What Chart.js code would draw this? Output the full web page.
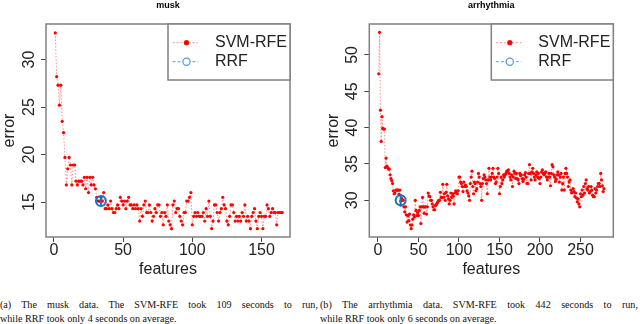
<!DOCTYPE html>
<html><head><meta charset="utf-8">
<script src="https://cdn.jsdelivr.net/npm/chart.js@4/dist/chart.umd.min.js"></script>
<style>
html,body{margin:0;padding:0;background:#fff;width:640px;height:324px;overflow:hidden;}
.c{position:absolute;top:0;width:320px;height:290px;}
.cap{position:absolute;font-family:"Liberation Serif","DejaVu Serif",serif;font-size:11px;line-height:14px;color:#111;white-space:nowrap;transform-origin:0 0;transform:scaleX(0.92);}
.l1{top:296.5px;width:345.6px;text-align:justify;text-align-last:justify;}
.l2{top:310.5px;}
</style></head><body>
<div class="c" style="left:0"><canvas id="c1" width="320" height="290"></canvas></div>
<div class="c" style="left:320px"><canvas id="c2" width="320" height="290"></canvas></div>
<div class="cap l1" style="left:0">(a) The musk data. The SVM-RFE took 109 seconds to run,</div>
<div class="cap l2" style="left:0">while RRF took only 4 seconds on average.</div>
<div class="cap l1" style="left:320px">(b) The arrhythmia data. SVM-RFE took 442 seconds to run,</div>
<div class="cap l2" style="left:320px">while RRF took only 6 seconds on average.</div>
<script>
// ---------- data ----------
const seriesNames = ['SVM-RFE', 'RRF'];
const xTitle = 'features';
const yTitle = 'error';

const muskTitle = 'musk';
const muskSvm = [32.8,28.2,27.3,25.2,27.3,23.5,22.3,19.7,16.8,18.5,19.7,18.9,16.8,18.9,18.9,17.2,16.8,17.2,17.2,17.2,
16.8,17.6,16.4,17.6,16.0,17.6,16.8,17.6,16.8,16.4,15.5,15.1,15.1,15.5,15.1,16.0,14.3,14.3,14.7,14.3,
15.1,14.3,13.9,13.9,14.3,14.7,14.3,15.5,15.1,14.7,15.1,14.3,15.1,15.5,14.7,14.7,14.3,14.7,14.3,14.7,
14.3,13.0,14.3,13.5,14.7,15.1,13.9,13.9,14.7,13.9,13.0,13.5,14.3,13.9,14.7,14.7,13.5,13.9,12.6,13.9,
13.5,14.7,13.0,12.6,12.2,14.7,15.1,13.9,14.3,14.3,13.5,13.0,12.6,13.9,13.9,15.1,15.1,15.5,16.0,12.6,
13.5,13.9,13.5,13.9,13.5,13.5,13.5,13.9,13.0,14.3,13.5,15.1,13.5,12.2,13.0,14.7,14.7,13.9,13.0,13.9,
14.3,15.5,14.7,14.3,13.0,12.6,13.5,14.7,14.7,13.9,13.0,13.5,13.0,13.5,13.0,13.9,13.5,14.7,13.0,13.5,
13.0,12.2,13.5,13.9,14.3,13.0,12.2,13.5,13.9,13.5,12.2,13.5,13.5,14.7,14.3,13.5,13.9,14.3,13.9,13.9,
12.6,13.9,13.9,13.9,13.9];
const muskRrf = {features: 34, error: 15.1, err: 0.4};
const muskXTicks = [0, 50, 100, 150];
const muskYTicks = [15, 20, 25, 30];

const arrTitle = 'arrhythmia';
const arrSvm = [47.4,53.1,42.4,38.1,41.5,39.9,39.8,39.8,34.5,35.8,34.7,34.5,34.3,34.3,33.5,33.0,32.7,32.3,31.3,30.9,
31.0,31.4,31.4,31.4,31.4,30.8,31.4,29.9,30.3,30.1,30.0,29.1,28.4,29.1,28.0,27.0,27.9,27.2,28.1,26.6,
26.1,26.6,27.4,28.0,27.7,30.0,28.6,27.9,28.3,27.9,28.6,29.1,26.8,29.1,30.4,29.1,28.2,29.1,29.1,28.1,
29.1,31.0,30.6,30.5,30.0,30.0,29.5,29.1,28.7,28.7,29.3,29.4,29.6,29.8,30.0,30.0,31.1,30.4,30.4,32.2,
30.4,30.9,30.0,31.1,32.2,30.6,30.2,29.5,30.0,31.0,30.4,30.9,30.6,29.5,31.0,31.3,31.0,30.9,31.3,33.2,
33.2,32.5,32.3,31.9,31.2,32.5,31.9,32.1,31.9,31.3,31.0,30.6,30.0,32.3,33.2,34.0,31.9,30.9,32.5,32.3,
31.3,31.6,32.5,33.7,33.2,32.3,31.9,30.0,32.3,33.0,33.5,33.2,32.8,32.3,30.9,32.8,34.4,33.2,32.8,33.2,
33.7,34.4,33.2,33.0,32.3,32.5,33.2,34.4,33.7,30.9,31.9,33.2,32.3,32.8,33.5,33.2,33.5,33.7,34.0,34.0,
34.2,33.7,33.2,32.8,33.5,31.9,33.2,34.0,33.7,33.0,33.7,33.0,32.8,32.3,33.7,33.4,33.5,33.0,32.6,32.9,
33.5,33.8,33.2,32.3,32.3,33.7,34.9,33.7,32.8,33.9,34.4,33.7,33.2,32.8,33.5,33.9,33.2,33.7,33.0,32.3,
33.2,33.9,34.2,33.7,33.5,33.7,33.9,33.2,32.8,33.2,33.7,33.2,32.0,33.7,34.9,34.6,33.5,33.2,32.6,32.9,
33.5,33.9,33.5,32.5,33.2,33.7,31.4,32.3,33.2,31.4,33.7,34.4,33.7,33.2,31.9,32.5,32.8,31.4,31.0,31.1,
31.6,31.2,30.5,31.0,30.3,29.8,30.2,29.5,29.1,30.9,30.5,31.4,30.7,31.9,31.0,32.3,32.8,31.6,31.4,31.9,
31.0,31.2,31.9,31.4,30.7,30.5,30.5,31.6,31.0,31.4,31.9,32.3,32.3,31.9,33.7,32.8,32.0,31.2,31.6];
const arrRrf = {features: 28, error: 30.0, err: 0.9};
const arrXTicks = [0, 50, 100, 150, 200, 250];
const arrYTicks = [30, 35, 40, 45, 50];

// ---------- drawing ----------
const FONT = '"Liberation Sans", Arial, sans-serif';
const RED = '#ff0000';
const BLUE = '#1f6fbf';

const deco = {
  id: 'deco',
  afterDraw(chart, args, o) {
    const {ctx, chartArea: a, scales} = chart;
    ctx.save();
    ctx.strokeStyle = '#808080'; ctx.lineWidth = 1.5;
    ctx.strokeRect(a.left, a.top, a.right - a.left, a.bottom - a.top);
    ctx.fillStyle = '#222'; ctx.font = '16px ' + FONT;
    ctx.textAlign = 'center'; ctx.textBaseline = 'middle';
    scales.y.ticks.forEach(t => {
      const y = scales.y.getPixelForValue(t.value);
      ctx.save(); ctx.translate(a.left - 16.5, y); ctx.rotate(-Math.PI / 2);
      ctx.fillText(String(t.value), 0, 0); ctx.restore();
    });
    ctx.save(); ctx.translate(a.left - 36, (a.top + a.bottom) / 2); ctx.rotate(-Math.PI / 2);
    ctx.fillText(yTitle, 0, 0); ctx.restore();
    ctx.font = 'bold 9px ' + FONT; ctx.fillStyle = '#000';
    ctx.fillText(o.title, (a.left + a.right) / 2, 6);
    const W = 122, H = 56, L = a.right - W, T = a.top;
    ctx.fillStyle = '#fff'; ctx.fillRect(L, T, W, H);
    ctx.strokeStyle = '#808080'; ctx.lineWidth = 1.5; ctx.strokeRect(L, T, W, H);
    const rows = [T + 18.7, T + 37.7];
    ctx.setLineDash([2, 2]); ctx.lineWidth = 1;
    ctx.strokeStyle = 'rgba(255,60,60,0.6)';
    ctx.beginPath(); ctx.moveTo(L + 4.5, rows[0]); ctx.lineTo(L + 30, rows[0]); ctx.stroke();
    ctx.setLineDash([]);
    ctx.fillStyle = RED; ctx.beginPath(); ctx.arc(L + 18.5, rows[0], 2.6, 0, Math.PI * 2); ctx.fill();
    ctx.setLineDash([3, 2]); ctx.strokeStyle = '#5b9bd5';
    ctx.beginPath(); ctx.moveTo(L + 4.5, rows[1]); ctx.lineTo(L + 30, rows[1]); ctx.stroke();
    ctx.setLineDash([]);
    ctx.fillStyle = '#fff'; ctx.beginPath(); ctx.arc(L + 18.5, rows[1], 3.6, 0, Math.PI * 2); ctx.fill();
    ctx.strokeStyle = '#5b9bd5'; ctx.lineWidth = 1.2; ctx.stroke();
    ctx.fillStyle = '#222'; ctx.font = '16px ' + FONT; ctx.textAlign = 'left';
    ctx.fillText(seriesNames[0], L + 47, rows[0]);
    ctx.fillText(seriesNames[1], L + 47, rows[1]);
    ctx.restore();
  }
};

function makeChart(id, title, svm, rrf, xTicks, yTicks, xr, yr, areaLeft, padRight) {
  const svmPts = svm.map((v, i) => ({x: i + 1, y: v}));
  new Chart(document.getElementById(id), {
    type: 'scatter',
    data: {
      datasets: [
        {label: seriesNames[1], data: [{x: rrf.features, y: rrf.error}],
         pointStyle: 'circle', pointRadius: 5, pointBorderWidth: 2, borderColor: BLUE,
         backgroundColor: 'rgba(0,0,0,0)', showLine: false},
        {label: 'err', data: [{x: rrf.features, y: rrf.error - rrf.err}, {x: rrf.features, y: rrf.error + rrf.err}],
         showLine: true, pointRadius: 0, borderColor: BLUE, borderWidth: 2},
        {label: seriesNames[0], data: svmPts, showLine: true,
         borderColor: 'rgba(255,50,50,0.55)', borderWidth: 1, borderDash: [1.5, 1.8],
         pointRadius: 1.6, pointBorderWidth: 0, backgroundColor: RED, pointBackgroundColor: RED}
      ]
    },
    options: {
      responsive: false, animation: false, devicePixelRatio: 1,
      layout: {padding: {top: 24, right: padRight, left: 0, bottom: 0}},
      plugins: {legend: {display: false}, tooltip: {enabled: false}, deco: {title: title}},
      scales: {
        x: {type: 'linear', min: xr[0], max: xr[1],
            afterBuildTicks: s => { s.ticks = xTicks.map(v => ({value: v})); },
            afterFit: s => { s.height = 53; },
            border: {display: false},
            grid: {drawOnChartArea: false, drawTicks: true, tickLength: 5, color: '#444', lineWidth: 1},
            ticks: {font: {family: FONT, size: 16}, color: '#222', padding: -1, maxRotation: 0, autoSkip: false},
            title: {display: true, text: xTitle, font: {family: FONT, size: 16}, color: '#222', padding: {top: 0, bottom: 11}}},
        y: {type: 'linear', min: yr[0], max: yr[1],
            afterBuildTicks: s => { s.ticks = yTicks.map(v => ({value: v})); },
            afterFit: s => { s.width = areaLeft; },
            border: {display: false},
            grid: {drawOnChartArea: false, drawTicks: true, tickLength: 5, color: '#444', lineWidth: 1},
            ticks: {display: false}}
      }
    },
    plugins: [deco]
  });
}

makeChart('c1', muskTitle, muskSvm, muskRrf, muskXTicks, muskYTicks, [-5.7, 170.6], [11.32, 33.74], 46, 30);
makeChart('c2', arrTitle, arrSvm, arrRrf, arrXTicks, arrYTicks, [-10.7, 290.5], [24.95, 54.25], 49.3, 26.7);
</script>
</body></html>
